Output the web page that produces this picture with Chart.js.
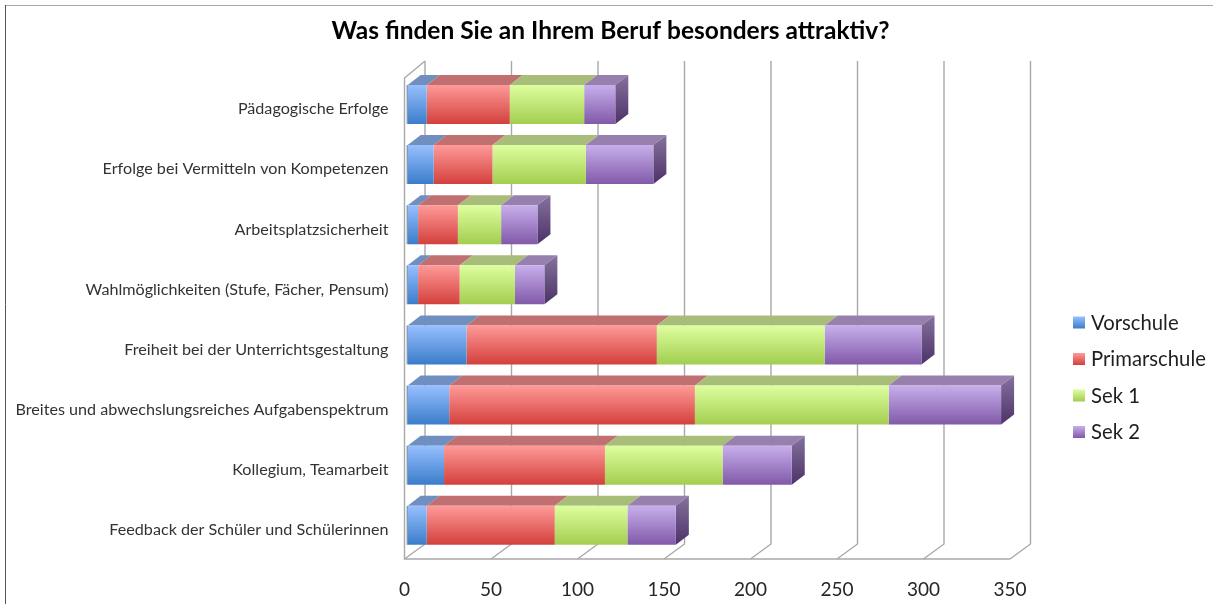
<!DOCTYPE html>
<html>
<head>
<meta charset="utf-8">
<script src="https://cdn.jsdelivr.net/npm/chart.js@4"></script>
<style>
  html, body { margin: 0; padding: 0; background: #fff; }
  canvas { display: block; }
</style>
</head>
<body>
<canvas id="attraktivChart" width="1213" height="604"></canvas>
<script>
const titleText = 'Was finden Sie an Ihrem Beruf besonders attraktiv?';
const categories = [
  'Pädagogische Erfolge',
  'Erfolge bei Vermitteln von Kompetenzen',
  'Arbeitsplatzsicherheit',
  'Wahlmöglichkeiten (Stufe, Fächer, Pensum)',
  'Freiheit bei der Unterrichtsgestaltung',
  'Breites und abwechslungsreiches Aufgabenspektrum',
  'Kollegium, Teamarbeit',
  'Feedback der Schüler und Schülerinnen'
];
const vorschule = [11, 15, 6, 6, 34, 24, 21, 11];
const primarschule = [48, 34, 23, 24, 110, 142, 93, 74];
const sek1 = [43, 54, 25, 32, 97, 112, 68, 42];
const sek2 = [18, 39, 21, 17, 56, 65, 40, 28];

const FONT = 'Lato, "Open Sans", sans-serif';
// 3D look: depth of the walls, depth of the bars, shift of the bars off the front plane
const WALL = { dx: 20.5, dy: -15 };
const BAR = { dx: 13, dy: -10, shiftX: 3.2, shiftY: -3.6 };

// colours per series: gradient top, gradient bottom, top face
const colours = [
  { top: '#98c0ff', bottom: '#3a7cc9', face: '#6f8fc0' },
  { top: '#ff9b99', bottom: '#d23f3b', face: '#c07070' },
  { top: '#deffa0', bottom: '#a2cd4e', face: '#a8bd7a' },
  { top: '#c8b0ec', bottom: '#8058a8', face: '#9780ae' }
];

function barGradient(context, c) {
  const chart = context.chart;
  if (!chart.chartArea) return c.top;
  const el = chart.getDatasetMeta(context.datasetIndex).data[context.dataIndex];
  const yPos = chart.scales.y.getPixelForValue(context.dataIndex);
  const half = el && el.height ? el.height / 2 : 20;
  const g = chart.ctx.createLinearGradient(0, yPos - half, 0, yPos + half);
  g.addColorStop(0, c.top);
  g.addColorStop(1, c.bottom);
  return g;
}

function makeDataset(label, values, c) {
  return {
    label: label,
    data: values,
    backgroundColor: ctx => barGradient(ctx, c),
    borderWidth: 0,
    barPercentage: 0.648,
    categoryPercentage: 1
  };
}

// back wall, left wall and floor lines
const wallPlugin = {
  id: 'wall',
  beforeDatasetsDraw(chart) {
    const { ctx, chartArea, scales } = chart;
    ctx.save();
    ctx.strokeStyle = '#a8a8a8';
    ctx.lineWidth = 1.4;
    scales.x.ticks.forEach(t => {
      const x = scales.x.getPixelForValue(t.value);
      ctx.beginPath();
      ctx.moveTo(x, chartArea.bottom);
      ctx.lineTo(x + WALL.dx, chartArea.bottom + WALL.dy);
      ctx.lineTo(x + WALL.dx, chartArea.top + WALL.dy - 2);
      ctx.stroke();
    });
    ctx.beginPath();
    ctx.moveTo(chartArea.left + WALL.dx, chartArea.top + WALL.dy - 2);
    ctx.lineTo(chartArea.left, chartArea.top);
    ctx.lineTo(chartArea.left, chartArea.bottom);
    ctx.lineTo(chartArea.right, chartArea.bottom);
    ctx.stroke();
    ctx.restore();
  }
};

// top and side faces of the bars, then the bars themselves moved off the front plane
const barDepthPlugin = {
  id: 'barDepth',
  beforeDatasetsDraw(chart) {
    const ctx = chart.ctx;
    ctx.save();
    ctx.translate(BAR.shiftX, BAR.shiftY);
    chart.data.datasets.forEach((ds, i) => {
      chart.getDatasetMeta(i).data.forEach(el => {
        const top = el.y - el.height / 2;
        const bottom = el.y + el.height / 2;
        ctx.fillStyle = colours[i].face;
        ctx.beginPath();
        ctx.moveTo(el.base, top);
        ctx.lineTo(el.base + BAR.dx, top + BAR.dy);
        ctx.lineTo(el.x + BAR.dx, top + BAR.dy);
        ctx.lineTo(el.x, top);
        ctx.closePath();
        ctx.fill();
        if (i === 0) {
          // dark edge on the left of each bar
          ctx.fillStyle = '#4f6f98';
          ctx.fillRect(el.base - 1, top, 1, el.height);
        }
        if (i === chart.data.datasets.length - 1) {
          const g = ctx.createLinearGradient(0, top + BAR.dy, 0, bottom);
          g.addColorStop(0, '#85729c');
          g.addColorStop(1, '#4c3268');
          ctx.fillStyle = g;
          ctx.beginPath();
          ctx.moveTo(el.x, top);
          ctx.lineTo(el.x + BAR.dx, top + BAR.dy);
          ctx.lineTo(el.x + BAR.dx, bottom + BAR.dy);
          ctx.lineTo(el.x, bottom);
          ctx.closePath();
          ctx.fill();
        }
      });
    });
  },
  afterDatasetsDraw(chart) {
    chart.ctx.restore();
  }
};

// legend sits lower than the built-in one can go, so it is drawn here
const legendPlugin = {
  id: 'sideLegend',
  afterDraw(chart) {
    const ctx = chart.ctx;
    ctx.save();
    ctx.font = '20.3px ' + FONT;
    ctx.textBaseline = 'middle';
    chart.data.datasets.forEach((ds, i) => {
      const y = 322.5 + i * 36.5;
      const g = ctx.createLinearGradient(0, y - 6, 0, y + 6);
      g.addColorStop(0, colours[i].top);
      g.addColorStop(1, colours[i].bottom);
      ctx.fillStyle = g;
      ctx.fillRect(1073, y - 6, 12, 12);
      ctx.fillStyle = '#1f1f1f';
      ctx.fillText(ds.label, 1091, y + 0.5);
    });
    ctx.restore();
  }
};

// frame of the picture, and the title centred on the whole picture
const framePlugin = {
  id: 'frame',
  afterLayout(chart) {
    chart.titleBlock.right = chart.width;
  },
  beforeDraw(chart) {
    const ctx = chart.ctx;
    ctx.save();
    ctx.lineWidth = 1;
    ctx.strokeStyle = '#a8a8a8';
    ctx.beginPath();
    ctx.moveTo(5, 5.5);
    ctx.lineTo(1213, 5.5);
    ctx.stroke();
    ctx.strokeStyle = '#555';
    ctx.beginPath();
    ctx.moveTo(5.5, 5);
    ctx.lineTo(5.5, 604);
    ctx.stroke();
    ctx.restore();
  }
};

new Chart(document.getElementById('attraktivChart'), {
  type: 'bar',
  data: {
    labels: categories,
    datasets: [
      makeDataset('Vorschule', vorschule, colours[0]),
      makeDataset('Primarschule', primarschule, colours[1]),
      makeDataset('Sek 1', sek1, colours[2]),
      makeDataset('Sek 2', sek2, colours[3])
    ]
  },
  plugins: [framePlugin, wallPlugin, barDepthPlugin, legendPlugin],
  options: {
    indexAxis: 'y',
    responsive: false,
    animation: false,
    layout: { padding: { left: 8, right: 203, top: 0, bottom: 0 } },
    scales: {
      x: {
        stacked: true,
        min: 0,
        max: 350,
        ticks: { stepSize: 50, color: '#262626', padding: 11, maxRotation: 0, font: { family: FONT, size: 19 } },
        grid: { display: false },
        border: { display: false },
        afterFit: s => { s.height = 45; }
      },
      y: {
        stacked: true,
        ticks: { color: '#333', padding: 8, labelOffset: 1, autoSkip: false, font: { family: FONT, size: 16.15 } },
        grid: { display: false },
        border: { display: false },
        afterFit: s => { s.width = 396.5; }
      }
    },
    plugins: {
      legend: { display: false },
      tooltip: { enabled: false },
      title: {
        display: true,
        text: titleText,
        color: '#000',
        font: { family: FONT, size: 24.5, weight: 'bold' },
        padding: { top: 16, bottom: 32.6 }
      }
    }
  }
});
</script>
</body>
</html>
